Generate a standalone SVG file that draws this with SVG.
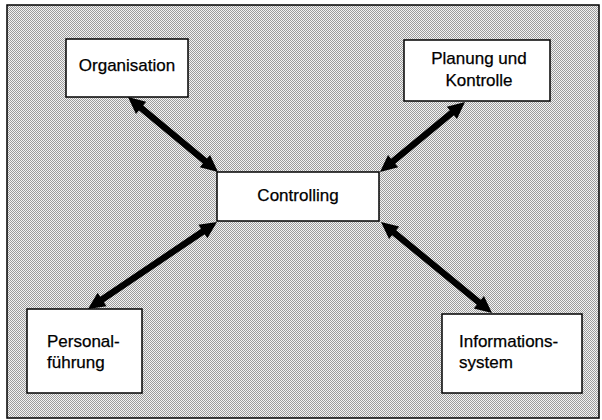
<svg xmlns="http://www.w3.org/2000/svg" width="602" height="420" viewBox="0 0 602 420">
<style>
.box{fill:#fff;stroke:#000;stroke-width:1.5}
.t{font-family:"Liberation Sans",Arial,sans-serif;font-size:17px;fill:#000;stroke:#000;stroke-width:0.25}
.c{text-anchor:middle}
.con{fill:#000;stroke:none}
</style>
<defs>
<pattern id="dots" width="2" height="2" patternUnits="userSpaceOnUse">
<rect width="2" height="2" fill="#f4f4f4"/>
<rect width="1" height="1" fill="#9c9c9c"/>
<rect x="1" y="1" width="1" height="1" fill="#9c9c9c"/>
</pattern>
</defs>
<rect x="0" y="0" width="602" height="420" fill="#fff"/>
<rect x="7" y="5" width="592" height="413" fill="url(#dots)" stroke="#000" stroke-width="1.5"/>
<g id="connectors">
<polygon class="con" points="128,97 135.94,114.02 138.98,110.38 202.86,163.62 199.82,167.26 218,172 210.06,154.98 207.02,158.62 143.14,105.38 146.18,101.74"/>
<polygon class="con" points="465,102 446.79,106.63 449.81,110.30 391.05,158.68 388.03,155.01 380,172 398.21,167.37 395.19,163.70 453.95,115.32 456.97,118.99"/>
<polygon class="con" points="88,309 106.56,306.13 103.91,302.19 204.73,234.19 207.38,238.13 217,222 198.44,224.87 201.09,228.81 100.27,296.81 97.62,292.87"/>
<polygon class="con" points="381,222 389.07,238.96 392.08,235.29 476.80,304.73 473.79,308.40 492,313 483.93,296.04 480.92,299.71 396.20,230.27 399.21,226.60"/>
</g>
<g id="organisation">
<rect class="box" x="66" y="39" width="122" height="58"/>
<text class="t c" x="127" y="71">Organisation</text>
</g>
<g id="planung">
<rect class="box" x="404" y="40" width="146" height="61"/>
<text class="t c" x="479" y="64">Planung und</text>
<text class="t c" x="479" y="86">Kontrolle</text>
</g>
<g id="controlling">
<rect class="box" x="217" y="172" width="162" height="49"/>
<text class="t c" x="298" y="201">Controlling</text>
</g>
<g id="personal">
<rect class="box" x="27" y="309" width="115" height="84"/>
<text class="t" x="47" y="347">Personal-</text>
<text class="t" x="47" y="368">führung</text>
</g>
<g id="informationssystem">
<rect class="box" x="442" y="314" width="140" height="79"/>
<text class="t" x="459" y="347">Informations-</text>
<text class="t" x="459" y="368">system</text>
</g>
</svg>
